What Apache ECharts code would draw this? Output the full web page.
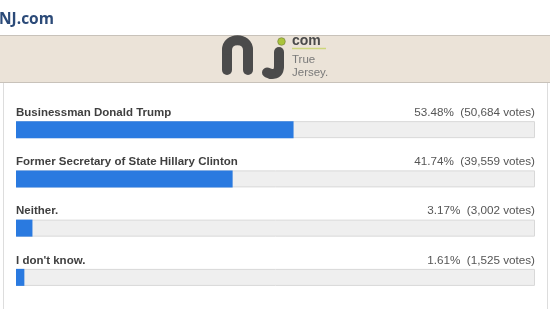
<!DOCTYPE html>
<html>
<head>
<meta charset="utf-8">
<script src="https://cdn.jsdelivr.net/npm/echarts@6/dist/echarts.min.js"></script>
<style>
html,body{margin:0;padding:0;background:#fff;}
#chart{width:550px;height:325px;}
</style>
</head>
<body>
<div id="chart"></div>
<script>
// ---- data ----
var categories = [
  'Businessman Donald Trump',
  'Former Secretary of State Hillary Clinton',
  'Neither.',
  "I don't know."
];
var percents = [53.48, 41.74, 3.17, 1.61];
var votes = [50684, 39559, 3002, 1525];
var scaleMax = 100;
var trackValues = [100, 100, 100, 100];

function fmtVotes(n) {
  return String(n).replace(/\B(?=(\d{3})+(?!\d))/g, ',');
}

var FONT = '"Liberation Sans", Arial, Helvetica, sans-serif';
var LOGO = {stroke: '#4b4b4b', lineWidth: 10, lineCap: 'round', fill: null};

var chart = echarts.init(document.getElementById('chart'), null, {renderer: 'canvas'});

chart.setOption({
  animation: false,
  backgroundColor: '#ffffff',
  title: {
    text: 'NJ.com',
    left: -1,
    top: 12,
    padding: 0,
    textStyle: {
      color: '#2b4a78',
      fontSize: 15.5,
      fontWeight: 'bold',
      fontFamily: '"Open Sans", "Liberation Sans", Arial, sans-serif'
    }
  },
  grid: {
    left: 16,
    right: 15,
    top: 105,
    height: 197,
    containLabel: false
  },
  xAxis: {
    type: 'value',
    min: 0,
    max: scaleMax,
    show: false
  },
  yAxis: {
    type: 'category',
    data: categories,
    inverse: true,
    show: false
  },
  graphic: [
    // header band
    {type: 'rect', z: 0, shape: {x: 0, y: 35, width: 550, height: 47},
     style: {fill: '#ebe3d8'}},
    {type: 'line', z: 1, shape: {x1: 0, y1: 35.5, x2: 550, y2: 35.5},
     style: {stroke: '#c8c2ba', lineWidth: 1}},
    {type: 'line', z: 1, shape: {x1: 0, y1: 82.5, x2: 550, y2: 82.5},
     style: {stroke: '#c8c2ba', lineWidth: 1}},
    // box borders
    {type: 'line', z: 1, shape: {x1: 3.5, y1: 83, x2: 3.5, y2: 309},
     style: {stroke: '#dddddd', lineWidth: 1}},
    {type: 'line', z: 1, shape: {x1: 547.5, y1: 83, x2: 547.5, y2: 309},
     style: {stroke: '#dddddd', lineWidth: 1}},
    // logo "n"
    {type: 'line', z: 2, shape: {x1: 227, y1: 70, x2: 227, y2: 50}, style: LOGO},
    {type: 'bezierCurve', z: 2, shape: {x1: 227, y1: 50, cpx1: 227, cpy1: 37, cpx2: 248, cpy2: 37, x2: 248, y2: 50}, style: LOGO},
    {type: 'line', z: 2, shape: {x1: 248, y1: 50, x2: 248, y2: 70}, style: LOGO},
    // logo "J"
    {type: 'line', z: 2, shape: {x1: 279, y1: 52, x2: 279, y2: 66}, style: LOGO},
    {type: 'bezierCurve', z: 2, shape: {x1: 279, y1: 66, cpx1: 279, cpy1: 73, cpx2: 276, cpy2: 74, x2: 271, y2: 74}, style: LOGO},
    {type: 'line', z: 2, shape: {x1: 271, y1: 74, x2: 267, y2: 72.5}, style: LOGO},
    {type: 'circle', z: 3, shape: {cx: 281.5, cy: 41.5, r: 3.8},
     style: {fill: '#aac43c', stroke: '#6f7a3a', lineWidth: 0.6}},
    {type: 'text', z: 2, x: 292, y: 41,
     style: {text: 'com', fill: '#4b4b4b', font: 'bold 14px ' + FONT, verticalAlign: 'middle', align: 'left'}},
    {type: 'line', z: 2, shape: {x1: 292, y1: 48.5, x2: 326, y2: 48.5},
     style: {stroke: '#cdd67c', lineWidth: 1.5}},
    {type: 'text', z: 2, x: 292, y: 60,
     style: {text: 'True', fill: '#7a7a7a', font: '11.5px ' + FONT, verticalAlign: 'middle', align: 'left'}},
    {type: 'text', z: 2, x: 292, y: 72.5,
     style: {text: 'Jersey.', fill: '#7a7a7a', font: '11.5px ' + FONT, verticalAlign: 'middle', align: 'left'}}
  ],
  series: [
    {
      name: 'track',
      type: 'bar',
      data: trackValues,
      barWidth: 17,
      silent: true,
      z: 2,
      itemStyle: {color: '#efefef', borderColor: '#d8d8d8', borderWidth: 1},
      label: {
        show: true,
        position: ['100%', -8.5],
        align: 'right',
        verticalAlign: 'middle',
        color: '#555555',
        fontSize: 11.7,
        fontFamily: FONT,
        formatter: function (p) {
          return percents[p.dataIndex].toFixed(2) + '%  (' + fmtVotes(votes[p.dataIndex]) + ' votes)';
        }
      }
    },
    {
      name: 'percent',
      type: 'bar',
      data: percents,
      barWidth: 17,
      barGap: '-100%',
      z: 3,
      itemStyle: {color: '#2a7ae0'},
      label: {
        show: true,
        position: [0, -8.5],
        align: 'left',
        verticalAlign: 'middle',
        color: '#3f3f3f',
        fontSize: 11.5,
        fontWeight: 'bold',
        fontFamily: FONT,
        formatter: '{b}'
      }
    }
  ]
});
</script>
</body>
</html>
